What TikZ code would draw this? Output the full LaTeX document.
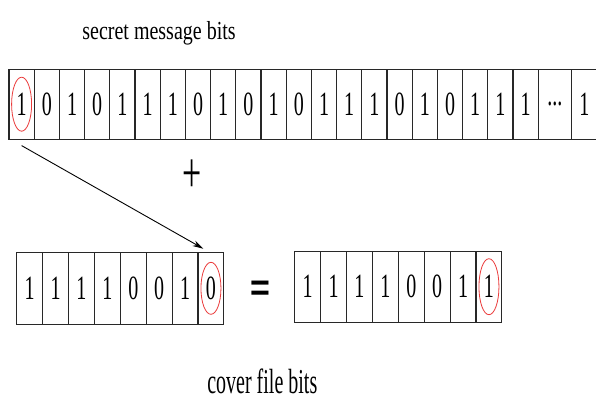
\documentclass[tikz,border=0pt]{standalone}
\usepackage{fontspec}
\setmainfont{Liberation Serif}
\newfontfamily\eqfont{Liberation Sans}
\usetikzlibrary{arrows.meta}
\definecolor{cellline}{RGB}{40,40,40}
\definecolor{ringred}{RGB}{235,60,60}
\tikzset{
  bitcell/.style={draw=cellline, line width=1.1pt, inner sep=0pt, minimum width=25.2pt, minimum height=69.7pt},
  covercell/.style={draw=cellline, line width=1.1pt, inner sep=0pt, minimum width=25.9pt, minimum height=72pt},
  digit/.style={font=\fontsize{20}{20}\selectfont},
  ring/.style={draw=ringred, line width=0.8pt},
  title/.style={anchor=base, inner sep=0pt, font=\fontsize{20}{20}\selectfont}
}
\newcommand{\dg}[1]{\scalebox{1}[1.7]{#1}}
\begin{document}
\begin{tikzpicture}[x=1pt,y=-1pt]
\useasboundingbox (0,0) rectangle (596,401);
\clip (0,0) rectangle (596,401);
\fill[white] (0,0) rectangle (596,401);

% title
\node[title] (t1) at (159,39.3) {\scalebox{1}[1.3]{secret message bits}};

% top row
\foreach [count=\i from 0] \b in {1,0,1,0,1,1,1,0,1,0,1,0,1,1,1,0,1,0,1,1,1} {
  \node[bitcell, digit] (s\i) at (9+12.6+25.2*\i,104.2) {\dg{\b}};
}
\node[bitcell, minimum width=33.5pt, digit] (sdots) at (538.2+16.75,104.2) {\dg{...}};
\node[bitcell, digit] (slast) at (571.7+12.6,104.2) {\dg{1}};
\draw[ring] (s0.center) ellipse (10pt and 27pt);

% plus
\node[inner sep=0pt, font=\fontsize{34}{34}\selectfont] (plus) at (192.3,176.5) {\scalebox{1}[1.7]{+}};

% cover bits
\foreach [count=\i from 0] \b in {1,1,1,1,0,0,1,0} {
  \node[covercell, digit] (c\i) at (16.7+12.95+25.9*\i,288.3) {\dg{\b}};
}
\draw[ring] (c7.center) ellipse (10pt and 26pt);

% equals
\node[inner sep=0pt, font=\eqfont\bfseries\fontsize{34}{34}\selectfont] (eq) at (260.3,290.7) {\scalebox{1}[1.1]{=}};

% result bits
\foreach [count=\i from 0] \b in {1,1,1,1,0,0,1,1} {
  \node[covercell, minimum height=71.3pt, digit] (r\i) at (294.7+12.95+25.9*\i,286.7) {\dg{\b}};
}
\draw[ring] (r7.center) ellipse (10pt and 28pt);

% arrow
\coordinate (astart) at ([yshift=-6pt]s0.south);
\draw[line width=0.9pt, -{Stealth[length=11pt,width=6pt]}] (astart) -- ([xshift=6pt,yshift=3pt]c7.north west);

% bottom title
\node[title] (t2) at (262.3,393.5) {\scalebox{1}[1.75]{cover file bits}};
\end{tikzpicture}
\end{document}
